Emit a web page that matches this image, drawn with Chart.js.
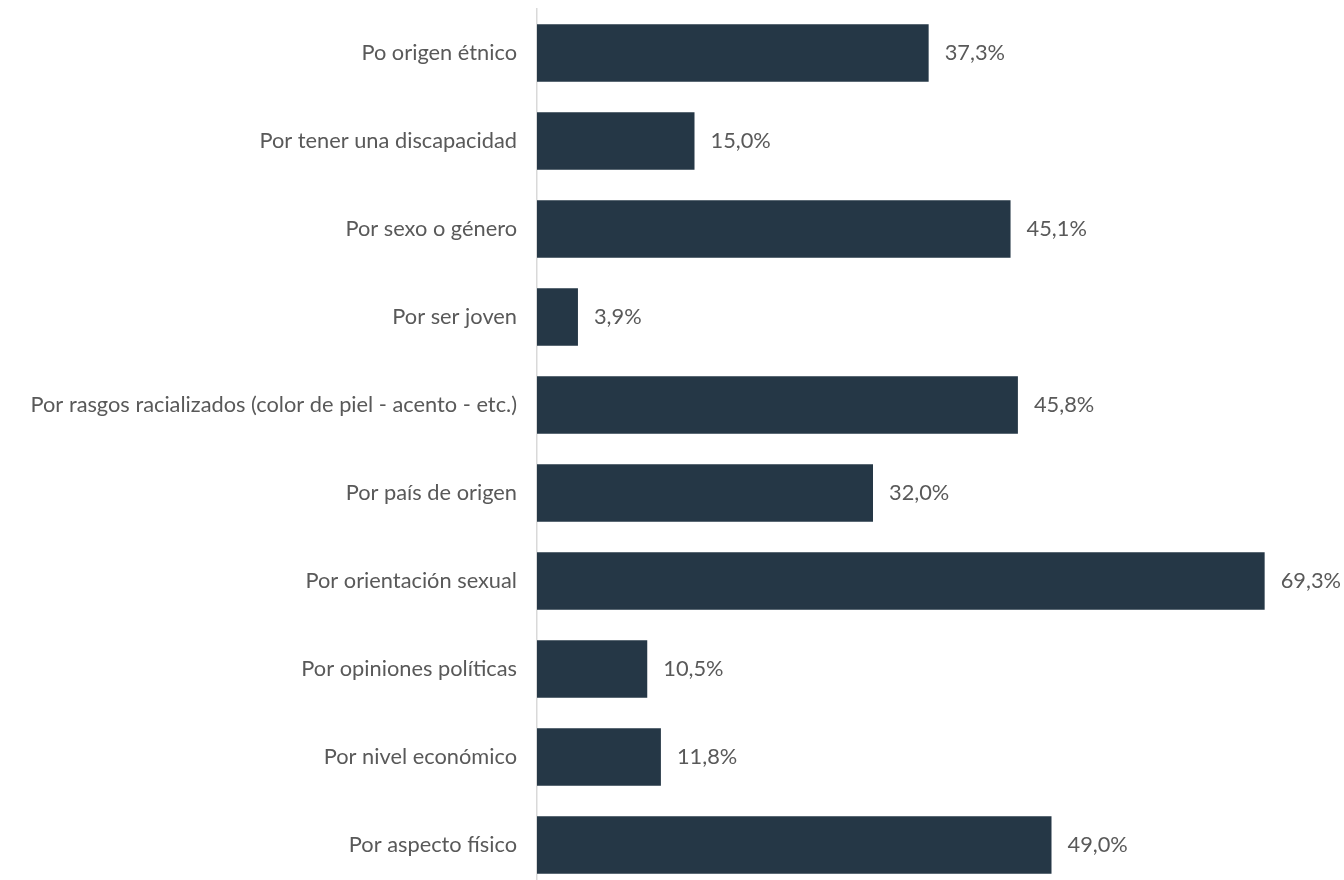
<!DOCTYPE html>
<html><head><meta charset="utf-8">
<script src="https://cdn.jsdelivr.net/npm/chart.js@4/dist/chart.umd.min.js"></script>
<style>
html,body{margin:0;padding:0;background:#fff;overflow:hidden;}
#wrap{width:1344px;height:880px;overflow:hidden;position:relative;}
canvas{position:absolute;left:0;top:0;}
</style></head>
<body>
<div id="wrap"><canvas id="c" width="1344" height="889"></canvas></div>
<script>
const categories = [
  "Po origen étnico",
  "Por tener una discapacidad",
  "Por sexo o género",
  "Por ser joven",
  "Por rasgos racializados (color de piel - acento - etc.)",
  "Por país de origen",
  "Por orientación sexual",
  "Por opiniones políticas",
  "Por nivel económico",
  "Por aspecto físico"
];
const values = [37.3, 15.0, 45.1, 3.9, 45.8, 32.0, 69.3, 10.5, 11.8, 49.0];
const valueLabels = ["37,3%", "15,0%", "45,1%", "3,9%", "45,8%", "32,0%", "69,3%", "10,5%", "11,8%", "49,0%"];

const FONT = "Lato, sans-serif";
const TEXT = "#595959";

const labelPlugin = {
  id: 'valueLabels',
  afterDatasetsDraw(chart) {
    const ctx = chart.ctx;
    const meta = chart.getDatasetMeta(0);
    ctx.save();
    ctx.font = "21.8px " + FONT;
    ctx.fillStyle = TEXT;
    ctx.textAlign = "left";
    ctx.textBaseline = "middle";
    meta.data.forEach((bar, i) => {
      ctx.fillText(valueLabels[i], bar.x + 16, bar.y);
    });
    ctx.restore();
  }
};

new Chart(document.getElementById('c'), {
  type: 'bar',
  data: {
    labels: categories,
    datasets: [{
      data: values,
      backgroundColor: "#253746",
      borderWidth: 0,
      categoryPercentage: 1,
      barPercentage: 0.653
    }]
  },
  options: {
    indexAxis: 'y',
    responsive: false,
    animation: false,
    layout: { padding: { left: 0, right: 9, top: 9, bottom: 0 } },
    plugins: { legend: { display: false }, tooltip: { enabled: false } },
    scales: {
      x: {
        display: false,
        min: 0,
        max: 76
      },
      y: {
        grid: { display: false, drawTicks: false },
        border: { display: true, color: "#d9d9d9", width: 1.5 },
        ticks: {
          color: TEXT,
          font: { family: FONT, size: 21.8 },
          padding: 20
        },
        afterFit(scale) { scale.width = 537; scale.paddingTop = 0; scale.paddingBottom = 0; }
      }
    }
  },
  plugins: [labelPlugin]
});
</script>
</body></html>
